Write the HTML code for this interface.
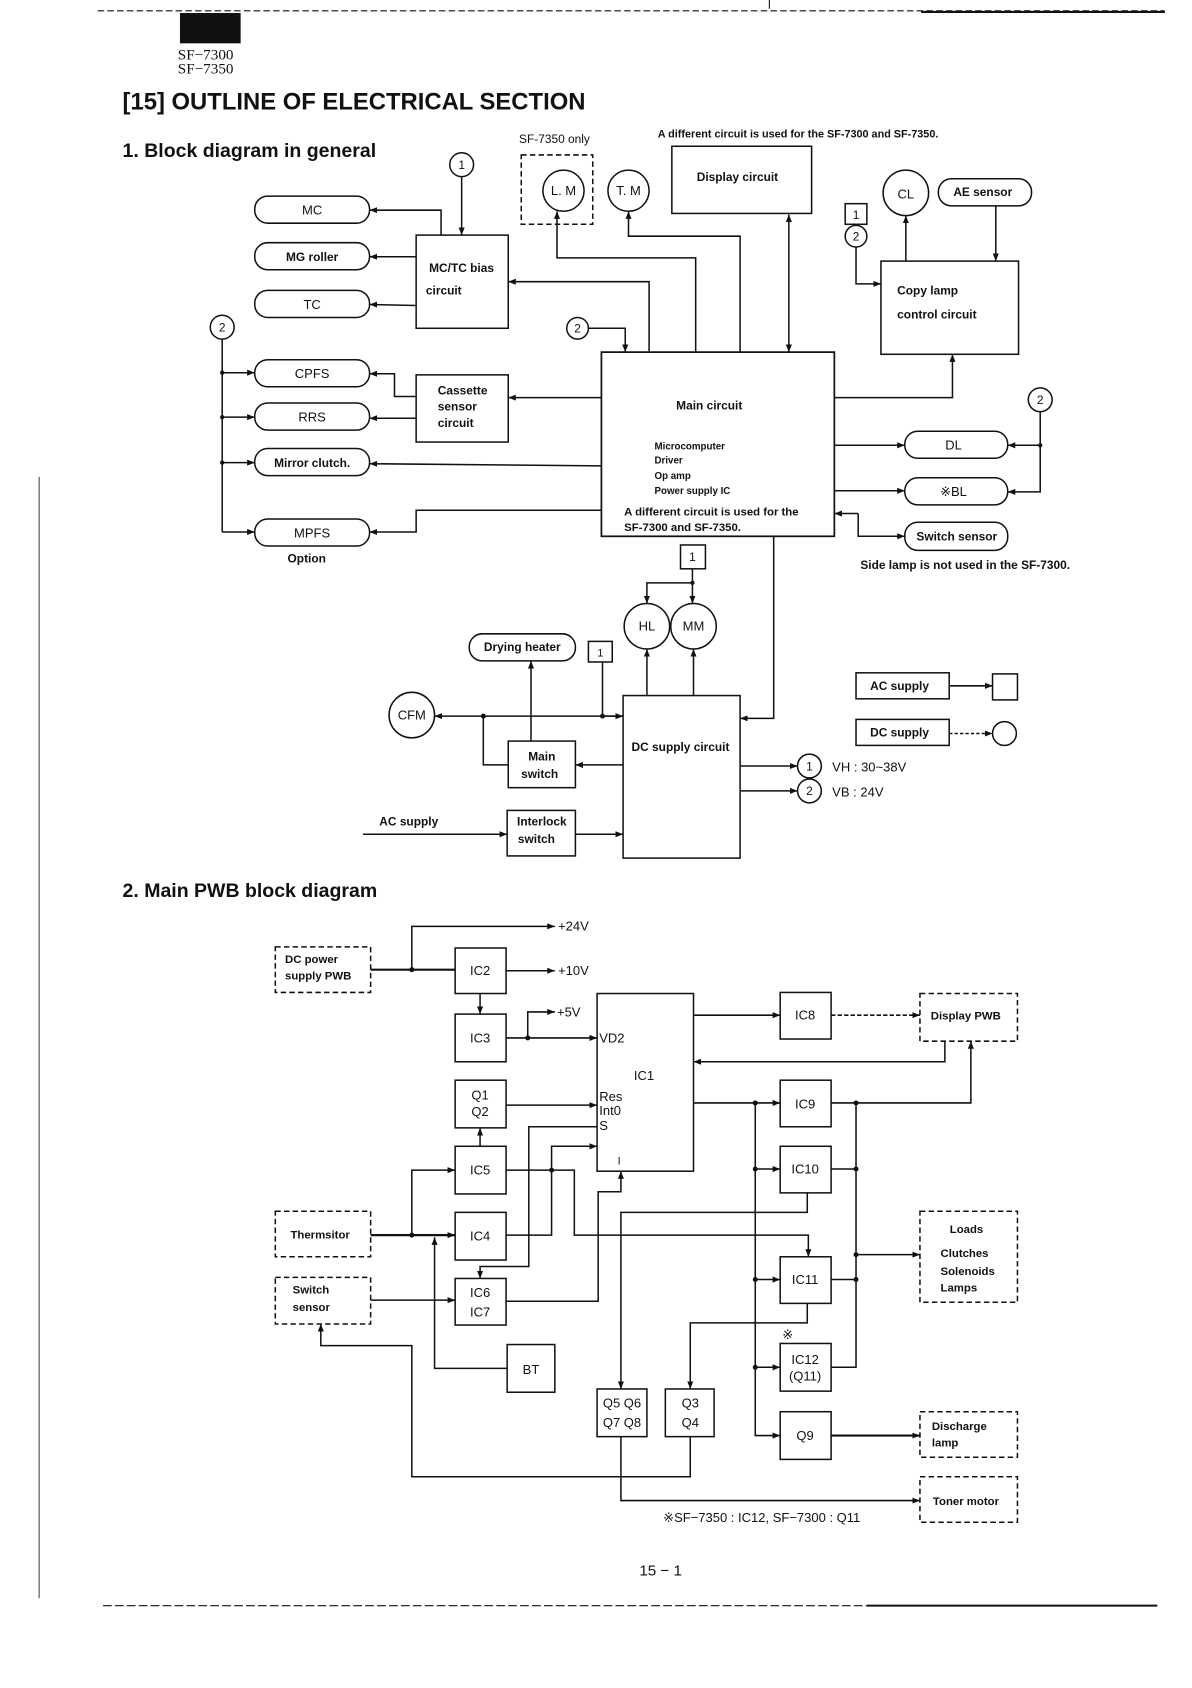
<!DOCTYPE html>
<html><head><meta charset="utf-8"><style>
html,body{margin:0;padding:0;background:#fff;}
svg{display:block;}
text{font-family:"Liberation Sans",sans-serif;fill:#111;}
.b{font-weight:bold;}
</style></head><body>
<svg width="1192" height="1688" viewBox="0 0 1100 1558" xmlns="http://www.w3.org/2000/svg">
<defs>
<marker id="a" viewBox="0 0 10 10" refX="10" refY="5" markerWidth="7" markerHeight="7" orient="auto-start-reverse" markerUnits="userSpaceOnUse"><path d="M0,1 L10,5 L0,9 z" fill="#111"/></marker>
</defs>
<g stroke="#111" fill="none" stroke-width="1.4">
<!-- page frame -->
<line x1="90" y1="10" x2="1075" y2="10" stroke-dasharray="6 3" stroke-width="1"/>
<line x1="850" y1="11" x2="1075" y2="11" stroke-width="2"/>
<line x1="710" y1="0" x2="710" y2="8" stroke-width="1"/>
<line x1="36" y1="440" x2="36" y2="1475" stroke-width="1" stroke="#444"/>
<line x1="95" y1="1482" x2="1068" y2="1482" stroke-dasharray="8 3" stroke-width="1"/>
<line x1="800" y1="1482" x2="1068" y2="1482" stroke-width="1.8"/>
</g>
<rect x="166" y="12" width="56" height="28" fill="#111"/>
<text x="164" y="55" style="font-family:'Liberation Serif',serif;font-size:14px">SF−7300</text>
<text x="164" y="68" style="font-family:'Liberation Serif',serif;font-size:14px">SF−7350</text>
<text x="113" y="101" class="b" style="font-size:22px">[15]  OUTLINE OF ELECTRICAL SECTION</text>
<text x="113" y="145" class="b" style="font-size:18px">1. Block diagram in general</text>

<g stroke="#111" fill="none" stroke-width="1.4">
<!-- top area -->
<circle cx="426" cy="152" r="11"/>
<line x1="426" y1="163" x2="426" y2="217" marker-end="url(#a)"/>
<rect x="384" y="217" width="85" height="86"/>
<rect x="235" y="181" width="106" height="25" rx="12"/>
<rect x="235" y="224" width="106" height="25" rx="12"/>
<rect x="235" y="268" width="106" height="25" rx="12"/>
<polyline points="407,217 407,194 341,194" marker-end="url(#a)"/>
<line x1="384" y1="237" x2="341" y2="237" marker-end="url(#a)"/>
<line x1="384" y1="282" x2="341" y2="281" marker-end="url(#a)"/>
<polyline points="599,325 599,260 469,260" marker-end="url(#a)"/>
<rect x="481" y="143" width="66" height="64" stroke-dasharray="5 3"/>
<circle cx="520" cy="176" r="19"/>
<circle cx="580" cy="176" r="19"/>
<polyline points="642,325 642,238 514,238 514,195" marker-end="url(#a)"/>
<polyline points="683,325 683,218 580,218 580,195" marker-end="url(#a)"/>
<rect x="620" y="135" width="129" height="62"/>
<line x1="728" y1="198" x2="728" y2="325" marker-start="url(#a)" marker-end="url(#a)"/>
<circle cx="836" cy="178" r="21"/>
<rect x="866" y="165" width="86" height="25" rx="12"/>
<rect x="780" y="188" width="20" height="19"/>
<circle cx="790" cy="218" r="10"/>
<polyline points="790,228 790,262 813,262" marker-end="url(#a)"/>
<rect x="813" y="241" width="127" height="86"/>
<line x1="836" y1="241" x2="836" y2="199" marker-end="url(#a)"/>
<line x1="919" y1="190" x2="919" y2="241" marker-end="url(#a)"/>
<polyline points="770,367 879,367 879,327" marker-end="url(#a)"/>
<circle cx="533" cy="303" r="10"/>
<polyline points="543,303 577,303 577,325" marker-end="url(#a)"/>
<rect x="555" y="325" width="215" height="170" stroke-width="1.6"/>
<!-- left -->
<circle cx="205" cy="302" r="11"/>
<line x1="205" y1="313" x2="205" y2="491"/>
<line x1="205" y1="344" x2="235" y2="344" marker-end="url(#a)"/>
<line x1="205" y1="385" x2="235" y2="385" marker-end="url(#a)"/>
<line x1="205" y1="427" x2="235" y2="427" marker-end="url(#a)"/>
<line x1="205" y1="491" x2="235" y2="491" marker-end="url(#a)"/>
<rect x="235" y="332" width="106" height="25" rx="12"/>
<rect x="235" y="372" width="106" height="25" rx="12"/>
<rect x="235" y="414" width="106" height="25" rx="12"/>
<rect x="235" y="479" width="106" height="25" rx="12"/>
<rect x="384" y="346" width="85" height="62"/>
<line x1="555" y1="367" x2="469" y2="367" marker-end="url(#a)"/>
<polyline points="384,366 364,366 364,345 341,345" marker-end="url(#a)"/>
<line x1="384" y1="386" x2="341" y2="386" marker-end="url(#a)"/>
<line x1="555" y1="430" x2="341" y2="428" marker-end="url(#a)"/>
<polyline points="555,471 384,471 384,491 341,491" marker-end="url(#a)"/>
<!-- right -->
<circle cx="960" cy="369" r="11"/>
<polyline points="960,380 960,454 930,454" marker-end="url(#a)"/>
<line x1="960" y1="411" x2="930" y2="411" marker-end="url(#a)"/>
<rect x="835" y="398" width="95" height="25" rx="12"/>
<rect x="835" y="441" width="95" height="25" rx="12"/>
<rect x="835" y="482" width="95" height="26" rx="12"/>
<line x1="770" y1="411" x2="835" y2="411" marker-end="url(#a)"/>
<line x1="770" y1="453" x2="835" y2="453" marker-end="url(#a)"/>
<polyline points="792,474 770,474" marker-end="url(#a)"/>
<polyline points="792,474 792,495 835,495" marker-end="url(#a)"/>
<!-- below main -->
<rect x="628" y="503" width="23" height="22"/>
<polyline points="639,525 639,538 597,538 597,557" marker-end="url(#a)"/>
<line x1="639" y1="538" x2="639" y2="557" marker-end="url(#a)"/>
<circle cx="597" cy="578" r="21"/>
<circle cx="640" cy="578" r="21"/>
<polyline points="714,495 714,663 683,663" marker-end="url(#a)"/>
<rect x="433" y="585" width="98" height="25" rx="12"/>
<rect x="543" y="592" width="22" height="19"/>
<circle cx="380" cy="660" r="21"/>
<rect x="575" y="642" width="108" height="150"/>
<line x1="575" y1="661" x2="401" y2="661" marker-end="url(#a)"/>
<line x1="556" y1="661" x2="575" y2="661" marker-end="url(#a)"/>
<line x1="556" y1="661" x2="556" y2="611"/>
<polyline points="446,661 446,706 469,706"/>
<rect x="469" y="684" width="62" height="43"/>
<line x1="490" y1="684" x2="490" y2="610" marker-end="url(#a)"/>
<line x1="575" y1="706" x2="531" y2="706" marker-end="url(#a)"/>
<rect x="468" y="748" width="63" height="42"/>
<line x1="335" y1="770" x2="468" y2="770" marker-end="url(#a)"/>
<line x1="531" y1="770" x2="575" y2="770" marker-end="url(#a)"/>
<line x1="597" y1="642" x2="597" y2="599" marker-end="url(#a)"/>
<line x1="640" y1="642" x2="640" y2="599" marker-end="url(#a)"/>
<line x1="683" y1="707" x2="736" y2="707" marker-end="url(#a)"/>
<line x1="683" y1="730" x2="736" y2="730" marker-end="url(#a)"/>
<circle cx="747" cy="707" r="11"/>
<circle cx="747" cy="730" r="11"/>
<rect x="790" y="621" width="86" height="24"/>
<line x1="876" y1="633" x2="916" y2="633" marker-end="url(#a)"/>
<rect x="916" y="622" width="23" height="24"/>
<rect x="790" y="664" width="86" height="24"/>
<line x1="876" y1="677" x2="916" y2="677" stroke-dasharray="3 2" marker-end="url(#a)"/>
<circle cx="927" cy="677" r="11"/>
</g>
<g fill="#111">
<circle cx="205" cy="344" r="2"/><circle cx="205" cy="385" r="2"/><circle cx="205" cy="427" r="2"/>
<circle cx="960" cy="411" r="2"/><circle cx="639" cy="538" r="2"/>
<circle cx="446" cy="661" r="2.3"/><circle cx="556" cy="661" r="2.3"/>
</g>
<g style="font-size:12px">
<text x="426" y="156" text-anchor="middle" style="font-size:11px">1</text>
<text x="288" y="198" text-anchor="middle">MC</text>
<text x="288" y="241" text-anchor="middle" class="b" style="font-size:11px">MG roller</text>
<text x="288" y="285" text-anchor="middle">TC</text>
<text x="396" y="251" class="b" style="font-size:11px">MC/TC bias</text>
<text x="393" y="272" class="b" style="font-size:11px">circuit</text>
<text x="479" y="132" style="font-size:11px">SF-7350 only</text>
<text x="520" y="180" text-anchor="middle">L. M</text>
<text x="580" y="180" text-anchor="middle">T. M</text>
<text x="607" y="127" class="b" style="font-size:10px">A different circuit is used for the SF-7300 and SF-7350.</text>
<text x="643" y="167" class="b" style="font-size:11px">Display circuit</text>
<text x="836" y="183" text-anchor="middle">CL</text>
<text x="907" y="181" text-anchor="middle" class="b" style="font-size:11px">AE sensor</text>
<text x="790" y="202" text-anchor="middle" style="font-size:11px">1</text>
<text x="790" y="222" text-anchor="middle" style="font-size:11px">2</text>
<text x="828" y="272" class="b" style="font-size:11px">Copy lamp</text>
<text x="828" y="294" class="b" style="font-size:11px">control circuit</text>
<text x="533" y="307" text-anchor="middle" style="font-size:11px">2</text>
<text x="205" y="306" text-anchor="middle" style="font-size:11px">2</text>
<text x="288" y="349" text-anchor="middle">CPFS</text>
<text x="288" y="389" text-anchor="middle">RRS</text>
<text x="288" y="431" text-anchor="middle" class="b" style="font-size:11px">Mirror clutch.</text>
<text x="288" y="496" text-anchor="middle">MPFS</text>
<text x="283" y="519" text-anchor="middle" class="b" style="font-size:11px">Option</text>
<text x="404" y="364" class="b" style="font-size:11px">Cassette</text>
<text x="404" y="379" class="b" style="font-size:11px">sensor</text>
<text x="404" y="394" class="b" style="font-size:11px">circuit</text>
<text x="624" y="378" class="b" style="font-size:11px">Main circuit</text>
<text x="604" y="415" class="b" style="font-size:9px">Microcomputer</text>
<text x="604" y="428" class="b" style="font-size:9px">Driver</text>
<text x="604" y="442" class="b" style="font-size:9px">Op amp</text>
<text x="604" y="456" class="b" style="font-size:9px">Power supply IC</text>
<text x="576" y="476" class="b" style="font-size:10.5px">A different circuit is used for the</text>
<text x="576" y="490" class="b" style="font-size:10.5px">SF-7300 and SF-7350.</text>
<text x="960" y="373" text-anchor="middle" style="font-size:11px">2</text>
<text x="880" y="415" text-anchor="middle">DL</text>
<text x="880" y="458" text-anchor="middle">※BL</text>
<text x="883" y="499" text-anchor="middle" class="b" style="font-size:11px">Switch sensor</text>
<text x="794" y="525" class="b" style="font-size:11px">Side lamp is not used in the SF-7300.</text>
<text x="639" y="518" text-anchor="middle" style="font-size:11px">1</text>
<text x="597" y="582" text-anchor="middle">HL</text>
<text x="640" y="582" text-anchor="middle">MM</text>
<text x="482" y="601" text-anchor="middle" class="b" style="font-size:11px">Drying heater</text>
<text x="554" y="606" text-anchor="middle" style="font-size:10px">1</text>
<text x="380" y="664" text-anchor="middle">CFM</text>
<text x="500" y="702" text-anchor="middle" class="b" style="font-size:11px">Main</text>
<text x="498" y="718" text-anchor="middle" class="b" style="font-size:11px">switch</text>
<text x="628" y="693" text-anchor="middle" class="b" style="font-size:11px">DC supply circuit</text>
<text x="500" y="762" text-anchor="middle" class="b" style="font-size:11px">Interlock</text>
<text x="495" y="778" text-anchor="middle" class="b" style="font-size:11px">switch</text>
<text x="350" y="762" class="b" style="font-size:11px">AC supply</text>
<text x="747" y="711" text-anchor="middle" style="font-size:11px">1</text>
<text x="747" y="734" text-anchor="middle" style="font-size:11px">2</text>
<text x="768" y="712">VH : 30~38V</text>
<text x="768" y="735">VB : 24V</text>
<text x="803" y="637" class="b" style="font-size:11px">AC supply</text>
<text x="803" y="680" class="b" style="font-size:11px">DC supply</text>
</g>

<text x="113" y="828" class="b" style="font-size:18px">2. Main PWB block diagram</text>
<g stroke="#111" fill="none" stroke-width="1.4">
<polyline points="380,895 380,855 512,855" marker-end="url(#a)"/>
<rect x="254" y="874" width="88" height="42" stroke-dasharray="5 3"/>
<line x1="342" y1="895" x2="420" y2="895" stroke-width="2"/>
<rect x="420" y="875" width="47" height="42"/>
<line x1="467" y1="896" x2="512" y2="896" marker-end="url(#a)"/>
<line x1="443" y1="917" x2="443" y2="936" marker-end="url(#a)"/>
<rect x="420" y="936" width="47" height="44"/>
<line x1="467" y1="958" x2="551" y2="958" marker-end="url(#a)"/>
<polyline points="487,958 487,934 512,934" marker-end="url(#a)"/>
<rect x="551" y="917" width="89" height="164"/>
<rect x="420" y="997" width="47" height="44"/>
<line x1="467" y1="1020" x2="551" y2="1020" marker-end="url(#a)"/>
<rect x="420" y="1058" width="47" height="44"/>
<line x1="443" y1="1058" x2="443" y2="1041" marker-end="url(#a)"/>
<rect x="420" y="1119" width="47" height="44"/>
<rect x="420" y="1180" width="47" height="43"/>
<rect x="468" y="1241" width="44" height="44"/>
<rect x="254" y="1118" width="88" height="42" stroke-dasharray="5 3"/>
<rect x="254" y="1179" width="88" height="43" stroke-dasharray="5 3"/>
<line x1="342" y1="1140" x2="420" y2="1140" marker-end="url(#a)" stroke-width="2"/>
<polyline points="380,1140 380,1080 420,1080" marker-end="url(#a)"/>
<polyline points="468,1263 401,1263 401,1142" marker-end="url(#a)"/>
<line x1="342" y1="1200" x2="420" y2="1200" marker-end="url(#a)"/>
<polyline points="467,1201 552,1201 552,1100 573,1100 573,1081" marker-end="url(#a)"/>
<polyline points="467,1080 530,1080 530,1140 746,1140 746,1160" marker-end="url(#a)"/>
<polyline points="467,1140 509,1140 509,1058 551,1058" marker-end="url(#a)"/>
<polyline points="551,1040 488,1040 488,1169 443,1169 443,1180" marker-end="url(#a)"/>
<rect x="720" y="916" width="47" height="43"/>
<line x1="640" y1="937" x2="720" y2="937" marker-end="url(#a)"/>
<line x1="767" y1="937" x2="849" y2="937" stroke-dasharray="4 2" marker-end="url(#a)"/>
<rect x="849" y="917" width="90" height="44" stroke-dasharray="5 3"/>
<polyline points="872,961 872,980 640,980" marker-end="url(#a)"/>
<polyline points="767,1018 896,1018 896,961" marker-end="url(#a)"/>
<rect x="720" y="997" width="47" height="43"/>
<line x1="640" y1="1018" x2="720" y2="1018" marker-end="url(#a)"/>
<polyline points="697,1018 697,1325 720,1325" marker-end="url(#a)"/>
<line x1="697" y1="1079" x2="720" y2="1079" marker-end="url(#a)"/>
<line x1="697" y1="1181" x2="720" y2="1181" marker-end="url(#a)"/>
<line x1="697" y1="1262" x2="720" y2="1262" marker-end="url(#a)"/>
<rect x="720" y="1058" width="47" height="43"/>
<rect x="720" y="1160" width="47" height="43"/>
<rect x="720" y="1240" width="47" height="44"/>
<rect x="720" y="1303" width="47" height="44"/>
<polyline points="790,1018 790,1262 767,1262"/>
<line x1="767" y1="1079" x2="790" y2="1079"/>
<line x1="767" y1="1181" x2="790" y2="1181"/>
<line x1="790" y1="1158" x2="849" y2="1158" marker-end="url(#a)"/>
<rect x="849" y="1118" width="90" height="84" stroke-dasharray="5 3"/>
<polyline points="745,1101 745,1119 573,1119 573,1282" marker-end="url(#a)"/>
<polyline points="745,1203 745,1221 637,1221 637,1282" marker-end="url(#a)"/>
<rect x="551" y="1282" width="46" height="44"/>
<rect x="614" y="1282" width="45" height="44"/>
<line x1="767" y1="1325" x2="849" y2="1325" marker-end="url(#a)" stroke-width="2"/>
<rect x="849" y="1303" width="90" height="42" stroke-dasharray="5 3"/>
<rect x="849" y="1363" width="90" height="42" stroke-dasharray="5 3"/>
<polyline points="573,1326 573,1385 849,1385" marker-end="url(#a)"/>
<polyline points="637,1326 637,1363 380,1363 380,1242 296,1242 296,1222" marker-end="url(#a)"/>
</g>
<g fill="#111">
<circle cx="380" cy="895" r="2.3"/><circle cx="487" cy="958" r="2.3"/>
<circle cx="380" cy="1140" r="2.3"/><circle cx="509" cy="1080" r="2.3"/>
<circle cx="697" cy="1018" r="2.3"/><circle cx="697" cy="1079" r="2.3"/><circle cx="697" cy="1181" r="2.3"/><circle cx="697" cy="1262" r="2.3"/>
<circle cx="790" cy="1018" r="2.3"/><circle cx="790" cy="1079" r="2.3"/><circle cx="790" cy="1158" r="2.3"/><circle cx="790" cy="1181" r="2.3"/>
</g>
<g style="font-size:12px">
<text x="515" y="859">+24V</text>
<text x="515" y="900">+10V</text>
<text x="514" y="938">+5V</text>
<text x="263" y="889" class="b" style="font-size:10.5px">DC power</text>
<text x="263" y="904" class="b" style="font-size:10.5px">supply PWB</text>
<text x="443" y="900" text-anchor="middle">IC2</text>
<text x="443" y="962" text-anchor="middle">IC3</text>
<text x="553" y="962">VD2</text>
<text x="585" y="997">IC1</text>
<text x="553" y="1016">Res</text>
<text x="553" y="1029">Int0</text>
<text x="553" y="1043">S</text>
<text x="570" y="1075" style="font-size:10px">I</text>
<text x="443" y="1015" text-anchor="middle">Q1</text>
<text x="443" y="1030" text-anchor="middle">Q2</text>
<text x="443" y="1084" text-anchor="middle">IC5</text>
<text x="443" y="1145" text-anchor="middle">IC4</text>
<text x="443" y="1197" text-anchor="middle">IC6</text>
<text x="443" y="1215" text-anchor="middle">IC7</text>
<text x="490" y="1268" text-anchor="middle">BT</text>
<text x="268" y="1143" class="b" style="font-size:10.5px">Thermsitor</text>
<text x="270" y="1194" class="b" style="font-size:10.5px">Switch</text>
<text x="270" y="1210" class="b" style="font-size:10.5px">sensor</text>
<text x="743" y="941" text-anchor="middle">IC8</text>
<text x="859" y="941" class="b" style="font-size:10.5px">Display PWB</text>
<text x="743" y="1023" text-anchor="middle">IC9</text>
<text x="743" y="1083" text-anchor="middle">IC10</text>
<text x="743" y="1185" text-anchor="middle">IC11</text>
<text x="727" y="1236" text-anchor="middle">※</text>
<text x="743" y="1259" text-anchor="middle">IC12</text>
<text x="743" y="1274" text-anchor="middle">(Q11)</text>
<text x="743" y="1329" text-anchor="middle">Q9</text>
<text x="574" y="1299" text-anchor="middle">Q5 Q6</text>
<text x="574" y="1317" text-anchor="middle">Q7 Q8</text>
<text x="637" y="1299" text-anchor="middle">Q3</text>
<text x="637" y="1317" text-anchor="middle">Q4</text>
<text x="892" y="1138" text-anchor="middle" class="b" style="font-size:10.5px">Loads</text>
<text x="868" y="1160" class="b" style="font-size:10.5px">Clutches</text>
<text x="868" y="1177" class="b" style="font-size:10.5px">Solenoids</text>
<text x="868" y="1192" class="b" style="font-size:10.5px">Lamps</text>
<text x="860" y="1320" class="b" style="font-size:10.5px">Discharge</text>
<text x="860" y="1335" class="b" style="font-size:10.5px">lamp</text>
<text x="861" y="1389" class="b" style="font-size:10.5px">Toner motor</text>
<text x="612" y="1405">※SF−7350 : IC12, SF−7300 : Q11</text>
<text x="590" y="1454" style="font-size:14px">15 − 1</text>
</g>
</svg>
</body></html>
